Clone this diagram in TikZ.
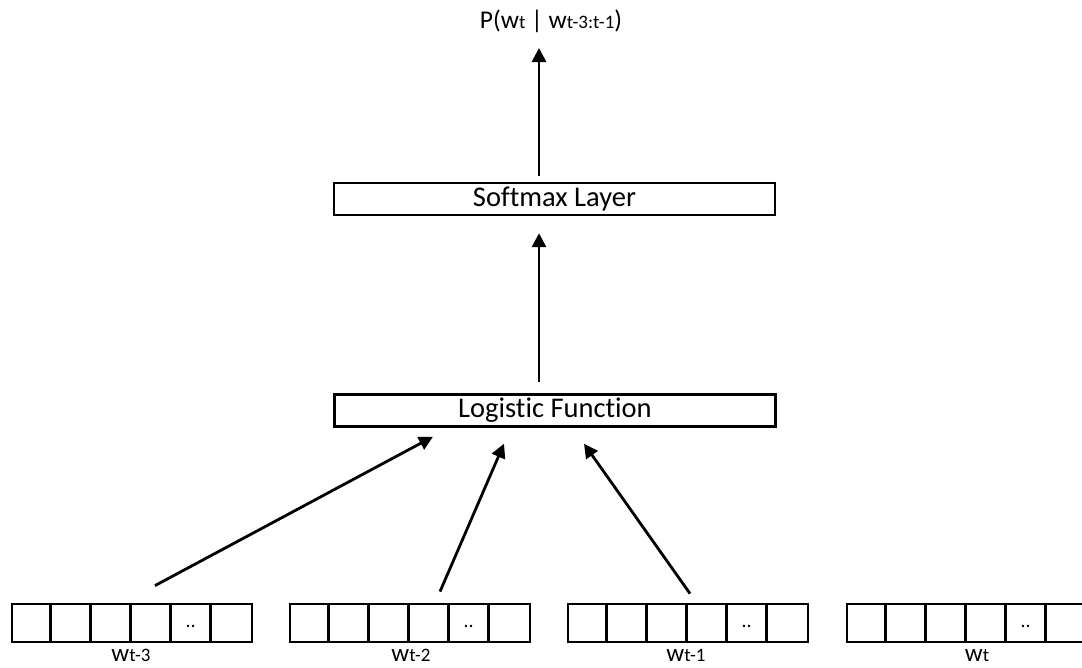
\documentclass[tikz,border=0pt]{standalone}
\usepackage{fontspec}
\setmainfont{Carlito}[Ligatures=NoCommon]
\usetikzlibrary{arrows.meta}

% word label: a large "w" followed by a smaller index on the same baseline
\newcommand{\wordlab}[1]{w{\fontsize{19}{22}\selectfont #1}}

\begin{document}
\begin{tikzpicture}[x=1pt,y=-1pt,
  layerbox/.style={draw, line width=2.4pt, minimum width=441pt, minimum height=32pt,
    inner sep=0pt, font=\fontsize{28.5}{32}\selectfont},
  vecbox/.style={draw, line width=2.8pt, minimum width=240pt, minimum height=38pt, inner sep=0pt},
  cellline/.style={line width=2.8pt},
  wordname/.style={anchor=base, inner sep=0pt, font=\fontsize{25}{28}\selectfont},
  dotsname/.style={anchor=base, inner sep=0pt, font=\fontsize{20}{24}\selectfont},
  flow/.style={-{Triangle[length=14pt,width=14pt]}, line width=2.8pt}
]
\useasboundingbox (0,0) rectangle (1082,667);

% output distribution
\node[anchor=base, inner sep=0pt, font=\fontsize{25.5}{30}\selectfont] (prob) at (551,28)
  {P(w{\fontsize{19}{22}\selectfont t} | w{\fontsize{19}{22}\selectfont t-3:t-1})};
\coordinate (probin) at (539,48);

% layers
\node[layerbox] (soft) at (554.5,199) {Softmax Layer};
\node[layerbox] (logi) at (555,410.5) {Logistic Function};

% one-hot input vectors
\foreach \n/\cx in {1/132, 2/410, 3/688, 4/967} {
  \node[vecbox] (v\n) at (\cx,623) {};
  \foreach \k in {1,...,5}
    \draw[cellline] ([xshift=\k*40pt]v\n.north west) -- ([xshift=\k*40pt]v\n.south west);
  \node[dotsname] (d\n) at ([xshift=180pt,yshift=-4pt]v\n.west) {..};
}

\node[wordname] (w1) at (131,661) {\wordlab{t-3}};
\node[wordname] (w2) at (411,661) {\wordlab{t-2}};
\node[wordname] (w3) at (686,661) {\wordlab{t-1}};
\node[wordname] (w4) at (977,661) {\wordlab{t}};

% connections
\draw[flow] ([xshift=-15.5pt,yshift=6pt]soft.north) -- (probin);
\draw[flow, shorten <=11pt, shorten >=17pt] ([xshift=-16pt]logi.north) -- ([xshift=-15.5pt]soft.south);
\draw[flow] ([shift={(23,-17)}]v1.north) -- ([shift={(-122,9)}]logi.south);
\draw[flow] ([shift={(30,-11)}]v2.north) -- ([shift={(-51,16)}]logi.south);
\draw[flow] ([shift={(2,-9)}]v3.north) -- ([shift={(29,16)}]logi.south);
\end{tikzpicture}
\end{document}
